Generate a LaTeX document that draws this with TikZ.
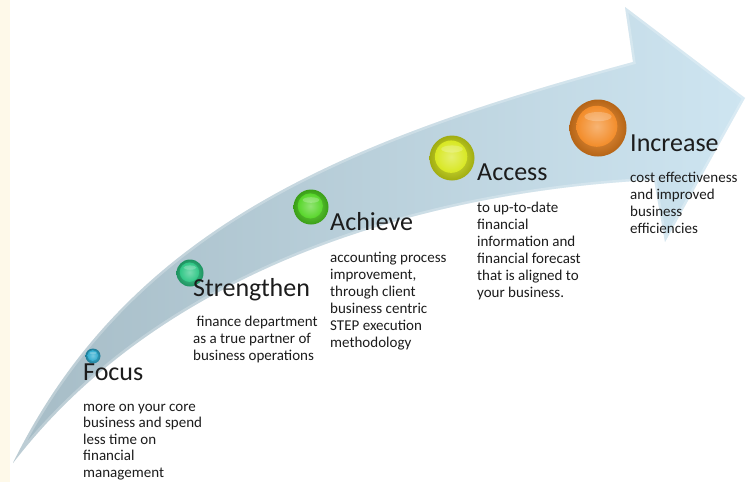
\documentclass[tikz,border=0pt]{standalone}
\usepackage{fontspec}
\setmainfont{Carlito}
\definecolor{txt}{RGB}{28,28,28}
\definecolor{arrL}{RGB}{166,188,198}
\definecolor{arrR}{RGB}{206,229,241}
\definecolor{cream}{RGB}{254,249,233}
\definecolor{cFocus}{RGB}{38,168,205}
\definecolor{cStr}{RGB}{38,196,128}
\definecolor{cAch}{RGB}{78,212,30}
\definecolor{cAcc}{RGB}{214,230,22}
\definecolor{cInc}{RGB}{242,134,30}
\newcommand\lines[1]{\begin{tabular}[t]{@{}l@{}}#1\end{tabular}}
\tikzset{
  title/.style={anchor=base west, inner sep=0pt, font=\fontsize{26}{30}\selectfont, text=txt},
  body/.style={anchor=base west, inner sep=0pt, font=\fontsize{15}{17}\selectfont, text=txt},
  orb/.style 2 args={circle, inner sep=0pt, minimum size=#1, draw=none,
    inner color=#2!80!white, outer color=#2!75!black}
}
\newcommand\orb[5]{%
  \node[orb={#4}{#5}] (#1) at (#2,#3) {};
  \shade[inner color=#5!62!white, outer color=#5!95!white]
    ([xshift=-0.02*#4, yshift=0.03*#4]#1.center) circle ({0.36*#4});
  \fill[white, opacity=0.22] ([yshift=0.2*#4]#1.center) ellipse ({0.24*#4} and {0.08*#4});
}
\newcommand\arrowpath{(13,463) .. controls (129.5,226) and (348.5,139) .. (633,62)
  -- (625,7) -- (745,98) -- (665,242) -- (654,180)
  .. controls (417,191.8) and (160.6,271) .. (13,463) -- cycle}
\begin{document}
\begin{tikzpicture}[x=1pt, y=-1pt]
\useasboundingbox (0,0) rectangle (753,482);
\fill[white] (0,0) rectangle (753,482);
\fill[cream] (0,0) rectangle (10,482);
% arrow
\shade[left color=arrL, right color=arrR] \arrowpath;
\begin{scope}
  \clip \arrowpath;
  \draw[white, opacity=0.25, line width=5pt, line join=miter] \arrowpath;
\end{scope}
% orbs
\orb{o1}{93}{356}{15pt}{cFocus}
\orb{o2}{190}{273}{27pt}{cStr}
\orb{o3}{311}{207}{35pt}{cAch}
\orb{o4}{452}{158}{45pt}{cAcc}
\orb{o5}{598}{128}{57pt}{cInc}
% titles
\node[title] (t1) at (83,380) {Focus};
\node[title] (t2) at (193,296) {Strengthen};
\node[title] (t3) at (330,230) {Achieve};
\node[title] (t4) at (477,180) {Access};
\node[title] (t5) at (630,151) {Increase};
% bodies
\node[body, font=\fontsize{15}{16.6}\selectfont] (b1) at (83,411) {\lines{more on your core\\business and spend\\less time on\\financial\\management}};
\node[body] (b2) at (193,326) {\lines{\ finance department\\as a true partner of\\business operations}};
\node[body] (b3) at (330,262) {\lines{accounting process\\improvement,\\through client\\business centric\\STEP execution\\methodology}};
\node[body] (b4) at (477,212) {\lines{to up-to-date\\financial\\information and\\financial forecast\\that is aligned to\\your business.}};
\node[body] (b5) at (630,182) {\lines{cost effectiveness\\and improved\\business\\efficiencies}};
\end{tikzpicture}
\end{document}
